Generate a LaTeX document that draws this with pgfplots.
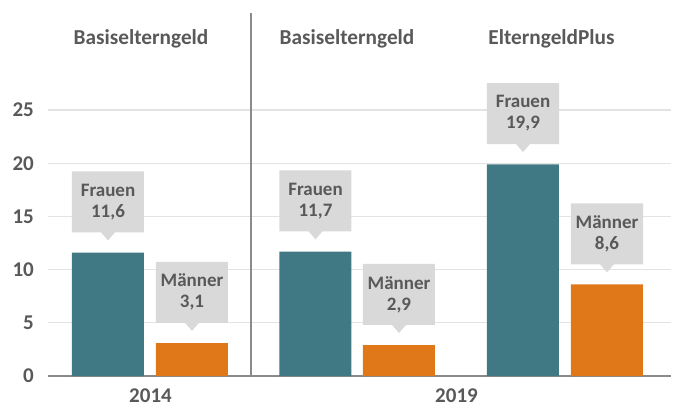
\documentclass[border=0pt]{standalone}
\usepackage{pgfplots}
\pgfplotsset{compat=1.18}
\usepackage{fontspec}
\setmainfont{Carlito}
\usetikzlibrary{shapes.callouts}
\definecolor{barteal}{HTML}{407884}
\definecolor{barorange}{HTML}{E0781A}
\definecolor{txt}{HTML}{595959}
\definecolor{boxgray}{HTML}{D9D9D9}
\definecolor{gridgray}{HTML}{E3E3E3}
\definecolor{axgray}{HTML}{8A8A8A}
\tikzset{
  lab/.style={shape=rectangle callout, fill=boxgray, text=txt,
    font=\fontsize{19bp}{21bp}\selectfont\bfseries, align=center,
    minimum width=72bp, minimum height=61bp, inner sep=0pt,
    anchor=south, yshift=20bp,
    callout relative pointer={(0bp,-8bp)}, callout pointer width=14bp,
    /pgf/number format/fixed, /pgf/number format/fixed zerofill,
    /pgf/number format/precision=1, /pgf/number format/use comma},
  hdr/.style={font=\fontsize{21.3bp}{24bp}\selectfont\bfseries, text=txt, anchor=base, inner sep=0pt}
}
\begin{document}
\begin{tikzpicture}
\begin{axis}[name=ax, x=1bp, y=10.64bp,
  xmin=48, xmax=671, ymin=0, ymax=25, clip=false,
  axis x line*=bottom, axis y line*=left,
  y axis line style={draw=none},
  x axis line style={draw=axgray, line width=2bp},
  ytick={0,5,...,25}, ymajorgrids,
  major grid style={draw=gridgray, line width=1.3bp},
  xtick={150.5,456.5}, xticklabels={2014,2019},
  major tick length=0pt, tick style={draw=none},
  ticklabel style={font=\fontsize{21bp}{24bp}\selectfont\bfseries, text=txt, inner sep=0pt},
  xticklabel style={anchor=base, yshift=-26bp},
  yticklabel style={anchor=east, xshift=-14bp},
  /pgf/number format/assume math mode=true,
]
\addplot[ybar, bar width=72, bar shift=0pt, fill=barteal, draw=none,
  nodes near coords={Frauen\\\pgfmathprintnumber{\pgfplotspointmeta}},
  every node near coord/.append style={lab}]
  coordinates {(108,11.6) (315.5,11.7) (523,19.9)};
\addplot[ybar, bar width=72, bar shift=0pt, fill=barorange, draw=none,
  nodes near coords={Männer\\\pgfmathprintnumber{\pgfplotspointmeta}},
  every node near coord/.append style={lab}]
  coordinates {(192,3.1) (399,2.9) (607,8.6)};
\draw[axgray, line width=2.3bp] (axis cs:251,0) -- (axis cs:251,34.1);
\node[hdr] at (axis cs:141,31.2) {Basiselterngeld};
\node[hdr] at (axis cs:347,31.2) {Basiselterngeld};
\node[hdr] at (axis cs:551.5,31.2) {ElterngeldPlus};
\end{axis}
\pgfresetboundingbox
\path (ax.south west) ++(-48bp,-30bp) rectangle ++(678bp,406bp);
\end{tikzpicture}
\end{document}
